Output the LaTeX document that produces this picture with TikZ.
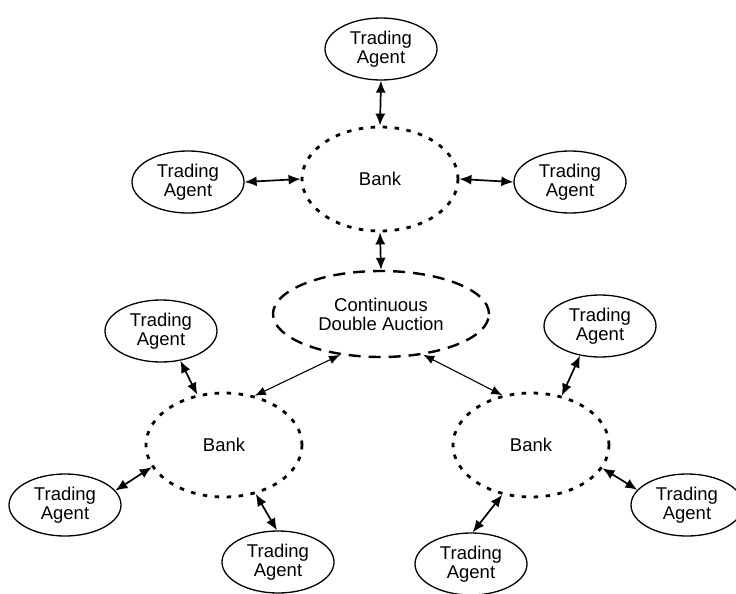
\documentclass[tikz,border=0pt]{standalone}
\usepackage{fontspec}
\setmainfont{Liberation Sans}
\usepackage{tikz}
\usetikzlibrary{shapes.geometric}
\usetikzlibrary{arrows.meta}

\begin{document}
\begin{tikzpicture}[x=1pt, y=-1pt,
    agent/.style={ellipse, draw, line width=1.3pt, minimum width=112pt, minimum height=62pt,
        inner sep=0pt, align=center, font=\fontsize{18.5}{18.5}\selectfont},
    bank/.style={ellipse, draw, line width=2.8pt, dash pattern=on 4.5pt off 7.5pt,
        minimum width=156pt, minimum height=104pt, font=\fontsize{18.5}{18.5}\selectfont},
    auction/.style={ellipse, draw, line width=2.4pt, dash pattern=on 12pt off 8pt,
        minimum width=216pt, minimum height=86pt, align=center, font=\fontsize{18.5}{19}\selectfont},
    link/.style={{Latex[length=12pt,width=10pt]}-{Latex[length=12pt,width=10pt]}, line width=1.7pt},
    thinlink/.style={{Latex[length=11pt,width=9pt]}-{Latex[length=11pt,width=9pt]}, line width=1.1pt}]
    \useasboundingbox (0,0) rectangle (736,594);

    % Banks and auction
    \node[bank] (bankTop) at (380,179) {Bank};
    \node[bank] (bankL) at (224,445) {Bank};
    \node[bank] (bankR) at (531,445) {Bank};
    \node[auction] (cda) at (381,314) {Continuous\\Double Auction};

    % Trading agents
    \node[agent] (taTop) at (381,49) {Trading\\Agent};
    \node[agent] (taTopL) at (188,182) {Trading\\Agent};
    \node[agent] (taTopR) at (570,182) {Trading\\Agent};
    \node[agent] (taLU) at (161,331) {Trading\\Agent};
    \node[agent] (taLL) at (65,505) {Trading\\Agent};
    \node[agent] (taLB) at (278,562) {Trading\\Agent};
    \node[agent] (taRU) at (600,326) {Trading\\Agent};
    \node[agent] (taRR) at (687,505) {Trading\\Agent};
    \node[agent] (taRB) at (471,564) {Trading\\Agent};

    % Top bank links
    \draw[link] (taTop.south) -- (bankTop.north);
    \draw[link] (taTopL.east) -- (bankTop.west);
    \draw[link] (bankTop.east) -- (taTopR.west);
    \draw[link] (bankTop.south) -- (cda.north);

    % Lower bank links
    \foreach \a/\p/\b/\q in {taLU/303/bankL/118, taLL/16/bankL/197, taLB/92/bankL/303,
                             taRU/236/bankR/58, taRR/163/bankR/342, taRB/87/bankR/240}
        \draw[link] (\a.\p) -- (\b.\q);

    % Auction links
    \draw[thinlink] (cda.225) -- (bankL.58);
    \draw[thinlink] (cda.316) -- (bankR.120);
\end{tikzpicture}
\end{document}
